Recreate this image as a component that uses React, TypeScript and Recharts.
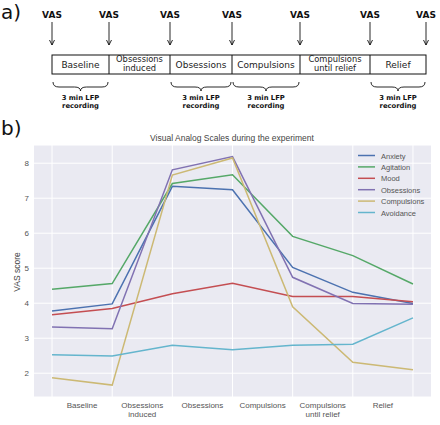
import React from 'react';
import { LineChart, Line, XAxis, YAxis, CartesianGrid, ReferenceLine } from 'recharts';

const categories = ['Baseline', 'Obsessions\ninduced', 'Obsessions', 'Compulsions', 'Compulsions\nuntil relief', 'Relief'];
const stepIndex = [0, 1, 2, 3, 4, 5, 6];
const anxiety = [3.78, 3.98, 7.34, 7.24, 5.02, 4.31, 3.99];
const agitation = [4.4, 4.56, 7.42, 7.67, 5.91, 5.36, 4.55];
const mood = [3.67, 3.85, 4.27, 4.57, 4.19, 4.19, 4.04];
const obsessions = [3.32, 3.27, 7.81, 8.19, 4.74, 3.99, 3.97];
const compulsions = [1.87, 1.66, 7.66, 8.15, 3.9, 2.31, 2.1];
const avoidance = [2.53, 2.49, 2.8, 2.67, 2.8, 2.83, 3.58];
const yTicks = [2, 3, 4, 5, 6, 7, 8];

const seriesNames = ['Anxiety', 'Agitation', 'Mood', 'Obsessions', 'Compulsions', 'Avoidance'];
const seriesValues = [anxiety, agitation, mood, obsessions, compulsions, avoidance];
const seriesColors = ['#4c72b0', '#55a868', '#c44e52', '#8172b2', '#ccb974', '#64b5cd'];

const phaseBoxes = ['Baseline', 'Obsessions\ninduced', 'Obsessions', 'Compulsions', 'Compulsions\nuntil relief', 'Relief'];
const boxEdges = [52, 109, 170, 232, 300, 370, 426];
const recordingBoxes = [0, 2, 3, 5];

const data = stepIndex.map((s, i) => {
  const row: any = { x: s };
  seriesNames.forEach((n, k) => { row[n] = seriesValues[k][i]; });
  return row;
});

const chartFont = '"Liberation Sans", Arial, sans-serif';
const diagFont = '"DejaVu Sans", sans-serif';

const XTick = (props: any) => {
  const { x, y, payload } = props;
  const idx = Math.round(payload.value - 0.5);
  const lines = (categories[idx] || '').split('\n');
  return (
    <text x={x} y={y} textAnchor="middle" fontSize={8} fill="#555" fontFamily={chartFont}>
      {lines.map((l, i) => (
        <tspan key={i} x={x} dy={9}>{l}</tspan>
      ))}
    </text>
  );
};

const Brace = ({ x1, x2 }: { x1: number; x2: number }) => {
  const m = (x1 + x2) / 2;
  const d = `M ${x1} 82 Q ${x1} 87 ${x1 + 6} 87 L ${m - 6} 87 Q ${m} 87 ${m} 91 Q ${m} 87 ${m + 6} 87 L ${x2 - 6} 87 Q ${x2} 87 ${x2} 82`;
  return <path d={d} fill="none" stroke="#111" strokeWidth={0.9} />;
};

const Overlay = () => (
  <svg width={440} height={425} style={{ position: 'absolute', left: 0, top: 0, pointerEvents: 'none' }}>
    <text x={1} y={19} fontSize={20} fontFamily={diagFont} fill="#111">a)</text>
    <text x={1} y={135} fontSize={20} fontFamily={diagFont} fill="#111">b)</text>
    {boxEdges.map((x, i) => (
      <g key={i}>
        <text x={x} y={18} textAnchor="middle" fontSize={9} fontWeight="bold" fontFamily={diagFont} fill="#111">VAS</text>
        <line x1={x} x2={x} y1={22} y2={45} stroke="#111" strokeWidth={0.9} />
        <path d={`M ${x - 2.5} 40 L ${x} 45 L ${x + 2.5} 40`} fill="none" stroke="#111" strokeWidth={0.9} />
      </g>
    ))}
    <rect x={52} y={55} width={374} height={19} fill="#fff" stroke="#111" strokeWidth={1} />
    {boxEdges.slice(1, -1).map((x, i) => (
      <line key={i} x1={x} x2={x} y1={55} y2={74} stroke="#111" strokeWidth={1} />
    ))}
    {phaseBoxes.map((label, i) => {
      const cx = (boxEdges[i] + boxEdges[i + 1]) / 2;
      const lines = label.split('\n');
      return (
        <text key={i} x={cx} y={lines.length > 1 ? 62 : 68} textAnchor="middle" fontSize={lines.length > 1 ? 8.3 : 9} fontFamily={diagFont} fill="#222">
          {lines.map((l, k) => (
            <tspan key={k} x={cx} dy={k === 0 ? 0 : 8.5}>{l}</tspan>
          ))}
        </text>
      );
    })}
    {recordingBoxes.map((b) => {
      const x1 = boxEdges[b] + 1;
      const x2 = boxEdges[b + 1] - 1;
      const cx = (x1 + x2) / 2;
      return (
        <g key={b}>
          <Brace x1={x1} x2={x2} />
          <text x={cx} y={100} textAnchor="middle" fontSize={6.8} fontWeight="bold" fontFamily={diagFont} fill="#111">3 min LFP</text>
          <text x={cx} y={107.5} textAnchor="middle" fontSize={6.8} fontWeight="bold" fontFamily={diagFont} fill="#111">recording</text>
        </g>
      );
    })}
    <text x={232} y={141} textAnchor="middle" fontSize={8.5} fill="#444" fontFamily={chartFont}>Visual Analog Scales during the experiment</text>
    <text x={20} y={272} textAnchor="middle" fontSize={8.5} fill="#444" fontFamily={chartFont} transform="rotate(-90 20 272)">VAS score</text>
    {seriesNames.map((n, i) => (
      <g key={n}>
        <line x1={358} x2={375} y1={155.5 + i * 11.4} y2={155.5 + i * 11.4} stroke={seriesColors[i]} strokeWidth={1.5} />
        <text x={381} y={158.5 + i * 11.4} fontSize={7.5} fill="#555" fontFamily={chartFont}>{n}</text>
      </g>
    ))}
  </svg>
);

export default function App() {
  return (
    <div style={{ position: 'absolute', left: 0, top: 0, width: 440, height: 425, background: '#fff' }}>
      <LineChart width={440} height={425} data={data} margin={{ top: 145, right: 9, bottom: 0, left: 0 }}>
        <CartesianGrid fill="#eaeaf2" stroke="#fff" strokeWidth={1} vertical={false} />
        {stepIndex.map((s) => (
          <ReferenceLine key={s} x={s} stroke="#fff" strokeWidth={1} />
        ))}
        <XAxis
          dataKey="x"
          type="number"
          domain={[-0.3, 6.3]}
          ticks={[0.5, 1.5, 2.5, 3.5, 4.5, 5.5]}
          tick={<XTick />}
          tickLine={false}
          axisLine={false}
          tickSize={0}
          height={28}
          interval={0}
          allowDataOverflow
        />
        <YAxis
          type="number"
          domain={[1.32, 8.52]}
          ticks={yTicks}
          tickLine={false}
          axisLine={false}
          tickSize={0}
          tickMargin={5}
          width={34}
          allowDataOverflow
          tick={{ fontSize: 8, fill: '#555', fontFamily: chartFont }}
        />
        {seriesNames.map((n, i) => (
          <Line key={n} type="linear" dataKey={n} stroke={seriesColors[i]} strokeWidth={1.5} dot={false} isAnimationActive={false} />
        ))}
      </LineChart>
      <Overlay />
    </div>
  );
}
